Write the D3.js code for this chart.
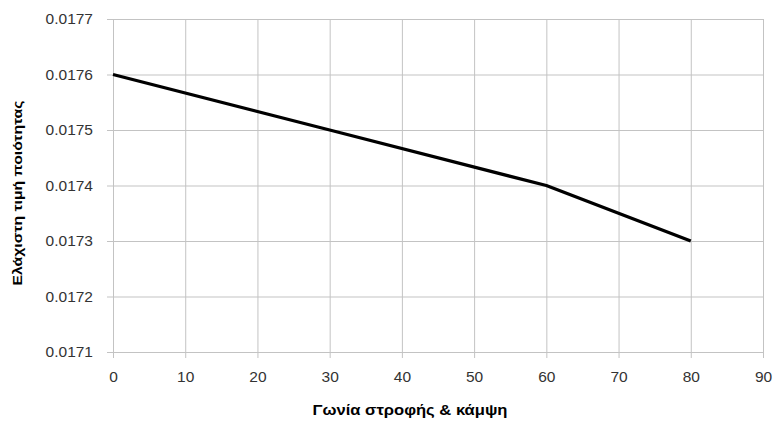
<!DOCTYPE html>
<html>
<head>
<meta charset="utf-8">
<script src="https://cdn.jsdelivr.net/npm/d3@7"></script>
<style>
  html, body { margin: 0; padding: 0; background: #fff; }
  svg { display: block; }
</style>
</head>
<body>
<svg id="chart" width="774" height="423"></svg>
<script>
// Angle values and corresponding minimum quality values
const angles = [0, 30, 60, 80];
const minQuality = [0.0176, 0.0175, 0.0174, 0.0173];
const xTicks = [0, 10, 20, 30, 40, 50, 60, 70, 80, 90];
const yTicks = [0.0171, 0.0172, 0.0173, 0.0174, 0.0175, 0.0176, 0.0177];
const xTitle = "Γωνία στροφής & κάμψη";
const yTitle = "Ελάχιστη τιμή ποιότητας";

const svg = d3.select("#chart");
const margin = { left: 113, right: 11, top: 19, bottom: 71 };
const W = 774, H = 423;

const x = d3.scaleLinear().domain([0, 90]).range([margin.left, W - margin.right]);
const y = d3.scaleLinear().domain([0.0171, 0.0177]).range([H - margin.bottom, margin.top]);

const gridColor = "#c3c3c3";
const font = "'Liberation Sans', Arial, sans-serif";
const plotH = y(0.0171) - y(0.0177);

// Vertical grid lines with tick marks below
const xAxis = svg.append("g")
  .attr("transform", `translate(0,${y(0.0171)})`)
  .call(d3.axisBottom(x).tickValues(xTicks).tickFormat(d3.format("d"))
    .tickSizeOuter(0).tickPadding(13));
xAxis.select(".domain").remove();
xAxis.selectAll(".tick line").attr("stroke", gridColor).attr("y1", 6).attr("y2", -plotH);
xAxis.selectAll(".tick text").attr("font-family", font).attr("font-size", 15.5).attr("fill", "#333");

// Horizontal grid lines with tick marks on the left
const yAxis = svg.append("g")
  .attr("transform", `translate(${x(0)},0)`)
  .call(d3.axisLeft(y).tickValues(yTicks).tickFormat(d3.format(".4f"))
    .tickSizeOuter(0).tickPadding(14));
yAxis.select(".domain").remove();
yAxis.selectAll(".tick line").attr("stroke", gridColor).attr("x1", -6).attr("x2", x(90) - x(0));
yAxis.selectAll(".tick text").attr("font-family", font).attr("font-size", 15.5).attr("fill", "#333");

// Data line
const pts = angles.map((a, i) => [a, minQuality[i]]);
svg.append("path")
  .datum(pts)
  .attr("fill", "none")
  .attr("stroke", "#000")
  .attr("stroke-width", 3.3)
  .attr("stroke-linejoin", "round")
  .attr("d", d3.line().x(d => x(d[0])).y(d => y(d[1])));

// Axis titles
svg.append("text")
  .attr("x", 410).attr("y", 415)
  .attr("text-anchor", "middle")
  .attr("font-family", font).attr("font-size", 14).attr("font-weight", "bold")
  .attr("textLength", 195).attr("lengthAdjust", "spacingAndGlyphs")
  .attr("fill", "#000")
  .text(xTitle);

svg.append("text")
  .attr("transform", `translate(22,193) rotate(-90)`)
  .attr("text-anchor", "middle")
  .attr("font-family", font).attr("font-size", 13).attr("font-weight", "bold")
  .attr("textLength", 185).attr("lengthAdjust", "spacingAndGlyphs")
  .attr("fill", "#000")
  .text(yTitle);
</script>
</body>
</html>
